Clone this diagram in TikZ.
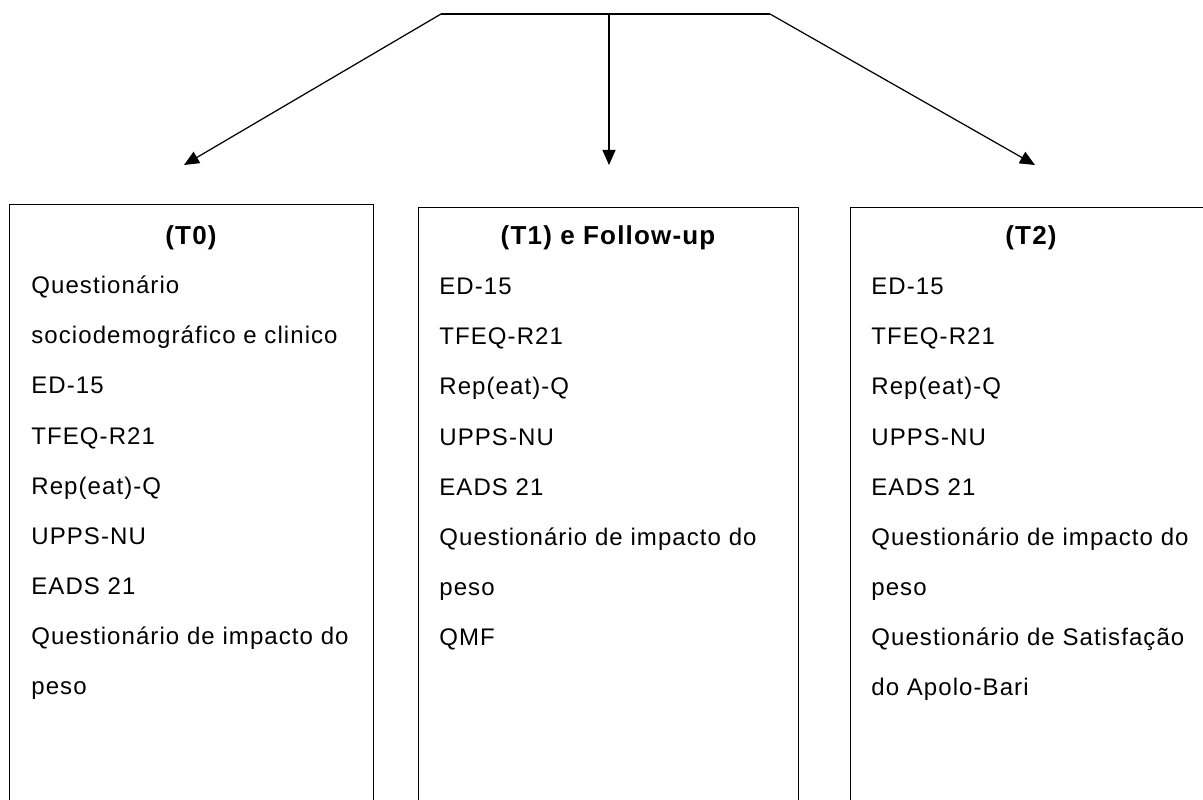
\documentclass[tikz,border=0pt]{standalone}
\usepackage{fontspec}
\setmainfont{Liberation Sans}[LetterSpace=4.5]
\usetikzlibrary{arrows.meta,positioning}
\def\px{0.02cm}

\begin{document}
\begin{tikzpicture}
[x=\px, y=-\px,
stagebox/.style={draw,line width=0.6pt,anchor=north west,inner sep=0pt,minimum height=700*\px},
stagehead/.style={anchor=base,inner sep=0pt,font=\fontsize{14.8}{17}\selectfont\bfseries},
stageitem/.style={anchor=base west,inner sep=0pt,font=\fontsize{13.66}{16}\selectfont},
dedge/.style={black,line width=0.7pt,-{Triangle[length=0.3cm,width=0.26cm]}}]
\useasboundingbox (0,0) rectangle (1203,800);
\clip (0,0) rectangle (1203,800);
%%
%%%%%%%%%%%%%%%%%%
% Fork
%%%%%%%%%%%%%%%%%%
\coordinate (forkL) at (441,14);
\coordinate (forkM) at (609,14);
\coordinate (forkR) at (770,14);
\coordinate (tip0) at (184,165);
\coordinate (tip1) at (609,165);
\coordinate (tip2) at (1035,165);
\draw[line width=0.8pt] (forkL) -- (forkR);
\draw[dedge] (forkL) -- (tip0);
\draw[dedge] (forkM) -- (tip1);
\draw[dedge] (forkR) -- (tip2);
%%
%%%%%%%%%%%%%%%%%%
% T0
%%%%%%%%%%%%%%%%%%
\node[stagebox,minimum width=364*\px] (box0) at (9,204) {};
\node[stagehead] (head0) at (191,245) {(T0)};
\foreach \txt [count=\i from 0] in {Questionário,sociodemográfico e clinico,ED-15,TFEQ-R21,Rep(eat)-Q,UPPS-NU,EADS 21,Questionário de impacto do,peso}
  \node[stageitem] (item0-\i) at (31,{294+50*\i}) {\txt};
%%
%%%%%%%%%%%%%%%%%%
% T1
%%%%%%%%%%%%%%%%%%
\node[stagebox,minimum width=380*\px] (box1) at (418,207) {};
\node[stagehead] (head1) at (608,245) {(T1) e Follow-up};
\foreach \txt [count=\i from 0] in {ED-15,TFEQ-R21,Rep(eat)-Q,UPPS-NU,EADS 21,Questionário de impacto do,peso,QMF}
  \node[stageitem] (item1-\i) at (439,{295+50*\i}) {\txt};
%%
%%%%%%%%%%%%%%%%%%
% T2
%%%%%%%%%%%%%%%%%%
\node[stagebox,minimum width=362*\px] (box2) at (850,207) {};
\node[stagehead] (head2) at (1031,245) {(T2)};
\foreach \txt [count=\i from 0] in {ED-15,TFEQ-R21,Rep(eat)-Q,UPPS-NU,EADS 21,Questionário de impacto do,peso,Questionário de Satisfação,do Apolo-Bari}
  \node[stageitem] (item2-\i) at (871,{295+50*\i}) {\txt};
%%
\end{tikzpicture}
\end{document}
